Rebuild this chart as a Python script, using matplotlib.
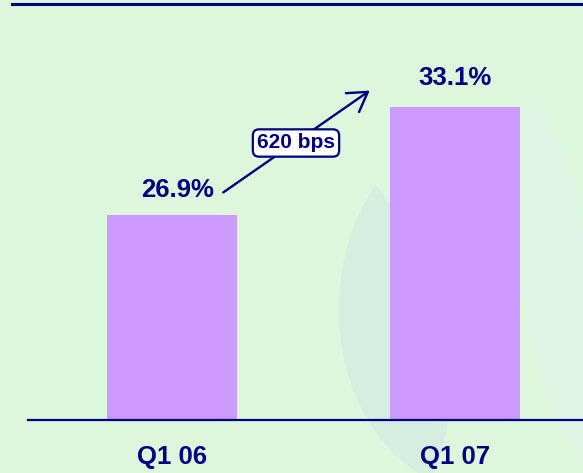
import matplotlib
matplotlib.use("Agg")
import matplotlib.pyplot as plt
from matplotlib.patches import FancyArrowPatch, PathPatch
from matplotlib.path import Path
from matplotlib.lines import Line2D

categories = ["Q1 06", "Q1 07"]
values = [26.9, 33.1]
value_labels = ["26.9%", "33.1%"]
change_label = "620 bps"

W, H = 583, 473
BG = "#DCF7DC"
NAVY = "#000080"
BAR = "#CC99FF"

fig = plt.figure(figsize=(W / 100, H / 100), dpi=100, facecolor=BG)
plt.rcParams['font.family'] = ['Liberation Sans', 'DejaVu Sans']

# decorative faint leaf shapes in background
bg_ax = fig.add_axes([0, 0, 1, 1], zorder=0)
bg_ax.set_xlim(0, W); bg_ax.set_ylim(H, 0); bg_ax.axis("off")

def leaf(tip, bottom, lc1, lc2, rc1, rc2, color):
    verts = [tip, lc1, lc2, bottom, rc2, rc1, tip]
    codes = [Path.MOVETO, Path.CURVE4, Path.CURVE4, Path.CURVE4,
             Path.CURVE4, Path.CURVE4, Path.CURVE4]
    bg_ax.add_patch(PathPatch(Path(verts, codes), fc=color, lw=0))

leaf((376, 185), (430, 480), (320, 260), (320, 420), (470, 300), (460, 420), "#D6EEE0")
leaf((520, 95), (600, 480), (500, 200), (520, 400), (600, 150), (590, 350), "#DFF4E4")

# main axes: px x 28..583, y 5..420
x0, x1 = 28, 583
y0, y1 = 5, 420
ax = fig.add_axes([x0 / W, 1 - y1 / H, (x1 - x0) / W, (y1 - y0) / H], zorder=1)
ax.patch.set_alpha(0)
xpos = [0, 1]
px_per_unit_x = 283.0
ax.set_xlim(-(172 - x0) / px_per_unit_x, 1 + (x1 - 455) / px_per_unit_x)
k = 17.42
ybot = 15.13
ax.set_ylim(ybot, ybot + (y1 - y0) / k)
ax.bar(xpos, values, width=130 / px_per_unit_x, color=BAR, bottom=0, zorder=2)
for s in ["top", "right", "left"]:
    ax.spines[s].set_visible(False)
ax.spines["bottom"].set_color(NAVY)
ax.spines["bottom"].set_linewidth(1.6)
ax.set_yticks([])
ax.set_xticks(xpos)
ax.set_xticklabels(categories, fontsize=18.5, fontweight="bold", color=NAVY)
ax.tick_params(axis="x", length=0, pad=18)

offsets = [(0.02, 0.75), (0, 0.95)]
for x, v, lab, (dx, dy) in zip(xpos, values, value_labels, offsets):
    ax.text(x + dx, v + dy, lab, ha="center", va="bottom", fontsize=18.5,
            fontweight="bold", color=NAVY)

# arrow between labels
fx = lambda px: (px - 172) / px_per_unit_x
fy = lambda py: ybot + (y1 - py) / k
arr = FancyArrowPatch((fx(221), fy(194)), (fx(372), fy(89)),
                      arrowstyle="->,head_length=9,head_width=5.5",
                      color=NAVY, lw=1.7, zorder=3, mutation_scale=1.5)
ax.add_patch(arr)
ax.text(fx(296), fy(143), change_label, ha="center", va="center", fontsize=15,
        fontweight="bold", color=NAVY, zorder=4,
        bbox=dict(boxstyle="round,pad=0.2,rounding_size=0.3", fc="white",
                  ec=NAVY, lw=1.6))

# top rule
fig.add_artist(Line2D([12 / W, 1], [1 - 4.5 / H, 1 - 4.5 / H], color=NAVY, lw=2.2))

fig.savefig("out.png", dpi=100, facecolor=BG)
